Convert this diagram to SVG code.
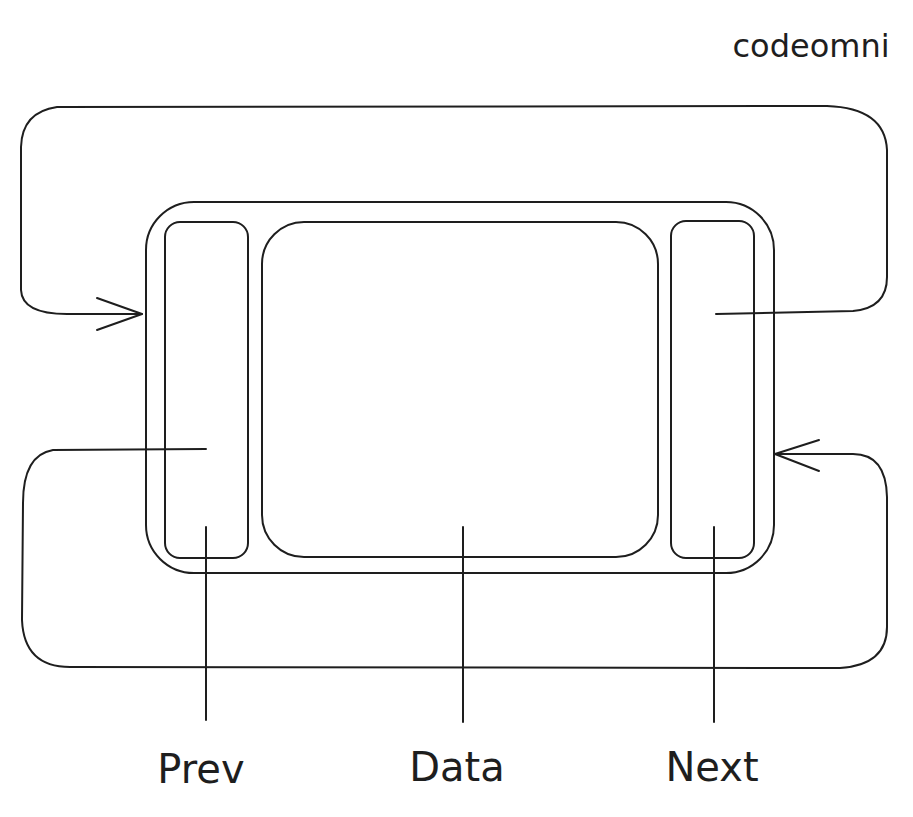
<svg xmlns="http://www.w3.org/2000/svg" width="913" height="817" viewBox="0 0 913 817">
<style>
.s{fill:none;stroke:#1e1e1e;stroke-width:2;stroke-linecap:round;stroke-linejoin:round}
.t{font-family:"DejaVu Sans",sans-serif;fill:#1e1e1e;text-anchor:middle}
</style>
<rect width="913" height="817" fill="#ffffff"/>
<g id="node-container"><rect class="s" x="146" y="202" width="628" height="371" rx="48" ry="48"/></g>
<g id="node-prev"><rect class="s" x="165" y="222" width="83" height="336" rx="15" ry="15"/></g>
<g id="node-data"><rect class="s" x="262" y="222" width="396" height="335" rx="42" ry="42"/></g>
<g id="node-next"><rect class="s" x="671" y="221" width="83" height="337" rx="15" ry="15"/></g>
<g id="connectors">
<path class="s" d="M716,314 L853,311 Q887,308 887,277 L887,150 Q885,108 827,106 L57,107 Q22,112 21,147 L21,290 Q22,314 67,314 L142,314"/>
<path class="s" d="M97,298 L142,314 L97,330"/>
<path class="s" d="M206,449 L53,450 Q23,455 23,503 L22,620 Q24,667 70,667 L840,668 Q887,665 887,627 L887,497 Q886,454 853,454 L775,454"/>
<path class="s" d="M819,440 L775,454 L819,471"/>
<path class="s" d="M206,527 L206,720"/>
<path class="s" d="M463,527 L463,722"/>
<path class="s" d="M714,527 L714,722"/>
</g>
<g id="labels">
<text class="t" x="201" y="783" font-size="40">Prev</text>
<text class="t" x="457" y="781" font-size="40">Data</text>
<text class="t" x="712" y="781" font-size="40">Next</text>
<text class="t" x="811" y="57" font-size="32">codeomni</text>
</g>
</svg>
